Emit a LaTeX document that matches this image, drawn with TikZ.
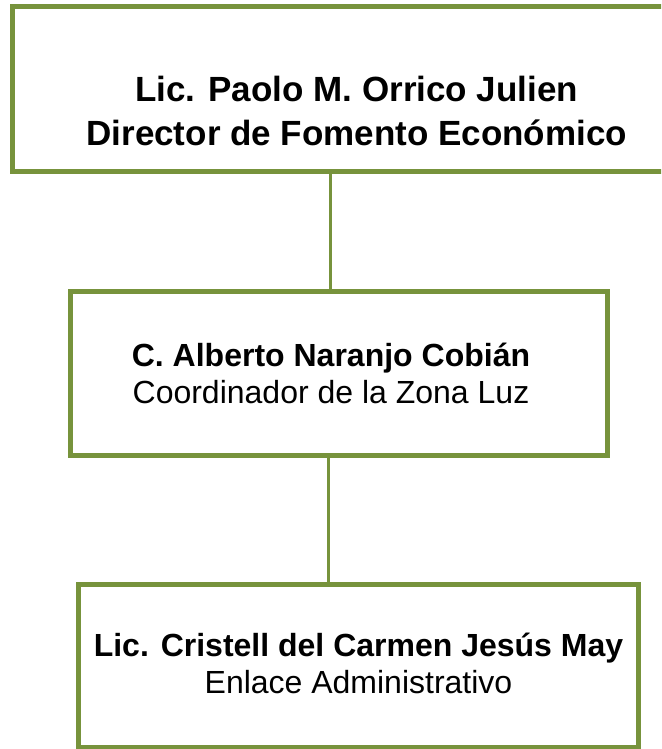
\documentclass[tikz,border=0pt]{standalone}
\usepackage{fontspec}
\setmainfont{Liberation Sans}
\definecolor{olive}{HTML}{77933C}
\begin{document}
\begin{tikzpicture}[x=1pt,y=-1pt,
  orgbox/.style={draw=olive, line width=5pt, fill=white, inner sep=0pt},
  orgtext/.style={align=center, text=black, inner sep=0pt},
  conn/.style={draw=olive, line width=3pt}]
\useasboundingbox (0,0) rectangle (661,749);
\clip (0,0) rectangle (661,749);
\node[orgbox, minimum width=688.5pt, minimum height=165pt] (b1) at (356.75,89) {};
\node[orgbox, minimum width=537pt, minimum height=164pt] (b2) at (339,373.5) {};
\node[orgbox, minimum width=560pt, minimum height=163pt] (b3) at (358.5,666) {};
\node[orgtext, font=\bfseries\fontsize{35}{44}\selectfont] (t1) at ([yshift=-22pt]b1.center)
  {Lic. Paolo M. Orrico Julien\\Director de Fomento Económico};
\node[orgtext, font=\fontsize{32}{37}\selectfont] (t2) at ([xshift=-8pt]b2.center)
  {\textbf{C. Alberto Naranjo Cobián}\\Coordinador de la Zona Luz};
\node[orgtext, font=\fontsize{32}{37}\selectfont] (t3) at ([yshift=3pt]b3.center)
  {\textbf{Lic. Cristell del Carmen Jesús May}\\Enlace Administrativo};
\coordinate (c1) at (330.5,0);
\coordinate (c2) at (328.5,0);
\draw[conn] (b1.south -| c1) -- (b2.north -| c1);
\draw[conn] (b2.south -| c2) -- (b3.north -| c2);
\end{tikzpicture}
\end{document}
